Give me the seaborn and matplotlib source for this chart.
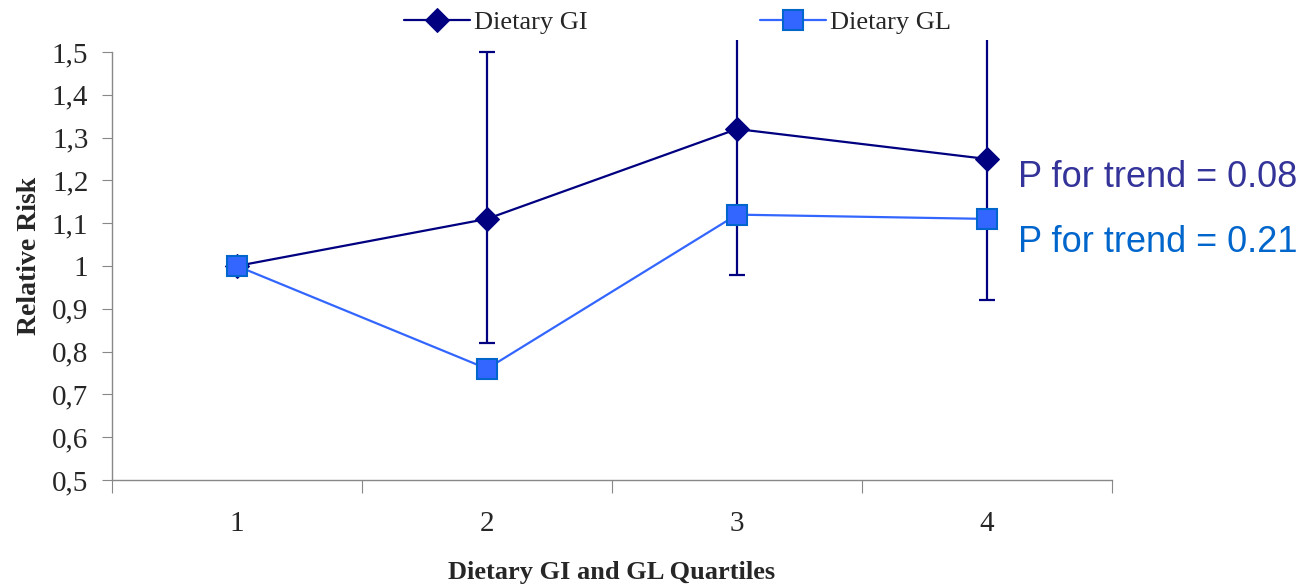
import matplotlib
matplotlib.use("Agg")
import matplotlib.pyplot as plt
import seaborn as sns
import pandas as pd
import numpy as np

quartiles = [1, 2, 3, 4]
gi_values = [1.00, 1.11, 1.32, 1.25]
gl_values = [1.00, 0.76, 1.12, 1.11]
gi_lower = [1.00, 0.82, 0.98, 0.92]
gi_upper = [1.00, 1.50, 1.80, 1.75]
y_ticks = [0.5, 0.6, 0.7, 0.8, 0.9, 1.0, 1.1, 1.2, 1.3, 1.4, 1.5]
y_tick_labels = ["0,5", "0,6", "0,7", "0,8", "0,9", "1", "1,1", "1,2", "1,3", "1,4", "1,5"]
x_tick_labels = ["1", "2", "3", "4"]
p_texts = ["P for trend = 0.08", "P for trend = 0.21"]

sns.set_style("white")
plt.rcParams['font.family'] = ['Liberation Serif', 'DejaVu Serif']

fig = plt.figure(figsize=(13.05, 5.86), dpi=100)
ax = fig.add_axes([112/1305, 1-480/586, 1000/1305, 440/586])

gi_col = "#000080"
gl_col = "#3366FF"

df = pd.DataFrame({"Quartile": quartiles * 2,
                   "RR": gi_values + gl_values,
                   "Series": ["Dietary GI"] * 4 + ["Dietary GL"] * 4})

sns.lineplot(data=df[df.Series == "Dietary GI"], x="Quartile", y="RR", ax=ax,
             color=gi_col, marker="D", markersize=12, markeredgecolor=gi_col,
             linewidth=1.6, label="Dietary GI", zorder=3)
sns.lineplot(data=df[df.Series == "Dietary GL"], x="Quartile", y="RR", ax=ax,
             color=gl_col, marker="s", markersize=14, markerfacecolor=gl_col,
             markeredgecolor="#0066CC", markeredgewidth=1.5,
             linewidth=1.6, label="Dietary GL", zorder=4)

gi = np.array(gi_values)
err = np.vstack([gi - np.array(gi_lower), np.array(gi_upper) - gi])
ax.errorbar(quartiles[1:], gi_values[1:], yerr=err[:, 1:], fmt="none",
            ecolor=gi_col, elinewidth=1.6, capsize=6, capthick=1.6, zorder=2)

ax.set_xlim(0.5, 4.5)
ax.set_ylim(0.5, 1.528)
ax.spines['left'].set_bounds(0.5, 1.5)
for s in ['top', 'right']:
    ax.spines[s].set_visible(False)
for s in ['left', 'bottom']:
    ax.spines[s].set_color("#888888")
    ax.spines[s].set_linewidth(1)

ax.set_yticks(y_ticks)
ax.set_yticklabels(y_tick_labels, fontsize=21)
ax.set_xticks([0.5, 1.5, 2.5, 3.5, 4.5])
ax.set_xticklabels([])
ax.set_xticks(quartiles, minor=True)
ax.set_xticklabels(x_tick_labels, minor=True, fontsize=21)
ax.tick_params(axis='x', which='major', length=9, direction='out', color="#888888", bottom=True)
ax.tick_params(axis='x', which='minor', length=0, pad=22)
ax.tick_params(axis='y', length=7, direction='out', color="#888888", left=True, pad=10)

ax.set_xlabel("Dietary GI and GL Quartiles", fontsize=19, fontweight='bold', va='center')
ax.xaxis.set_label_coords(0.5, (480 - 572) / 440)
ax.set_ylabel("Relative Risk", fontsize=20, fontweight='bold', va='center')
ax.yaxis.set_label_coords((30 - 112) / 1000, (480 - 256) / 440)

ax.text(4.124, 1.206, p_texts[0], color="#333399", fontsize=26, va='center', ha='left',
        family=['Liberation Sans', 'DejaVu Sans'])
ax.text(4.124, 1.056, p_texts[1], color="#0066CC", fontsize=26, va='center', ha='left',
        family=['Liberation Sans', 'DejaVu Sans'])

leg = ax.legend(loc='center', bbox_to_anchor=(0.519, 0.962), bbox_transform=fig.transFigure,
                ncol=2, frameon=False, fontsize=19, handlelength=2.5, columnspacing=6.55,
                handletextpad=0.15, borderaxespad=0)

fig.savefig("out.png", dpi=100)
